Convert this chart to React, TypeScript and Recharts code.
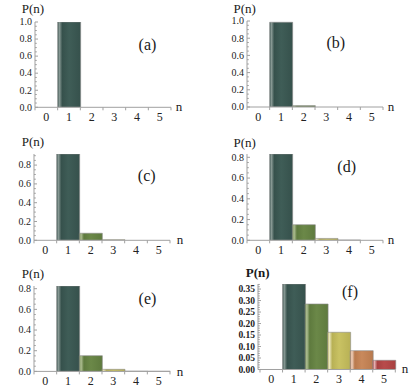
import React from 'react';
import { Bar, BarChart, Cell, XAxis, YAxis } from 'recharts';

// photon-number distributions P(n), one array per panel
const categories = [0, 1, 2, 3, 4, 5];
const probA = [0, 1.0, 0, 0, 0, 0];
const probB = [0, 0.985, 0.016, 0, 0, 0];
const probC = [0, 0.918, 0.075, 0.006, 0, 0];
const probD = [0, 0.832, 0.15, 0.018, 0.002, 0];
const probE = [0, 0.826, 0.152, 0.02, 0.002, 0.0005];
const probF = [0, 0.372, 0.285, 0.162, 0.082, 0.04];

const majorTicksUnit = [0, 0.2, 0.4, 0.6, 0.8, 1.0];
const majorTicksPartial = [0, 0.2, 0.4, 0.6, 0.8];
const majorTicksF = [0, 0.05, 0.1, 0.15, 0.2, 0.25, 0.3, 0.35];

const FONT = "'Liberation Serif', 'Times New Roman', serif";
const AXIS = '#a0a0a0';

// base colour + highlight for each n
const barColors = [
  { base: '#3f5d57', light: '#8c9d98', dark: '#36514c' },
  { base: '#3f5d57', light: '#8c9d98', dark: '#36514c' },
  { base: '#6b8848', light: '#b2c196', dark: '#5e7a3e' },
  { base: '#c9c263', light: '#efebc8', dark: '#b8b155' },
  { base: '#c9895c', light: '#f1d3c0', dark: '#b97a4e' },
  { base: '#b84b4b', light: '#e6b6b6', dark: '#a84141' },
];

const YW = 30;
const XH = 20;
const MT = 8;
const MR = 6;

function minorTicks(max: number, step: number) {
  const out: number[] = [];
  for (let i = 0; i * step <= max + 1e-9; i++) out.push(Math.round(i * step * 1000) / 1000);
  return out;
}

interface PanelProps {
  values: number[];
  yMax: number;
  majors: number[];
  minorStep: number;
  decimals: number;
  bold?: boolean;
  rect: { x0: number; x1: number; yTop: number; yBot: number };
  padLeft?: number;
  letter: string;
  pPos: [number, number];
  letterPos: [number, number];
  nPos: [number, number];
}

function Panel({ values, yMax, majors, minorStep, decimals, bold, rect, padLeft = 0, letter, pPos, letterPos, nPos }: PanelProps) {
  const data = categories.map((n, i) => ({ n: String(n), p: values[i] }));
  const plotW = rect.x1 - rect.x0;
  const plotH = rect.yBot - rect.yTop;
  const band = (plotW - padLeft) / categories.length;
  const allTicks = Array.from(new Set([...minorTicks(yMax, minorStep), ...majors])).sort((a, b) => a - b);
  const isMajor = (v: number) => majors.some((m) => Math.abs(m - v) < 1e-6);

  const renderXTick = (props: any) => {
    const { x, y, index } = props;
    return (
      <g>
        <line x1={x - band / 2} x2={x - band / 2} y1={y} y2={y + 3} stroke={AXIS} />
        {index === categories.length - 1 && (
          <line x1={x + band / 2} x2={x + band / 2} y1={y} y2={y + 3} stroke={AXIS} />
        )}
        <text x={x} y={y + 14} textAnchor="middle" fontSize={12} fontFamily={FONT} fill="#222">
          {props.payload.value}
        </text>
      </g>
    );
  };

  const renderYTick = (props: any) => {
    const { x, y } = props;
    const v = props.payload.value as number;
    const major = isMajor(v);
    return (
      <g>
        <line x1={x} x2={x + (major ? 3 : 1.8)} y1={y} y2={y} stroke={AXIS} />
        {major && (
          <text
            x={x - 3}
            y={y}
            dy="0.33em"
            textAnchor="end"
            fontSize={bold ? 9.5 : 10}
            fontWeight={bold ? 'bold' : 'normal'}
            fontFamily={FONT}
            fill="#222"
          >
            {v.toFixed(decimals)}
          </text>
        )}
      </g>
    );
  };

  const txt = (pos: [number, number], size: number, weight = 'normal'): React.CSSProperties => ({
    position: 'absolute',
    left: pos[0],
    top: pos[1],
    transform: 'translate(-50%, -50%)',
    fontSize: size,
    fontWeight: weight as any,
    fontFamily: FONT,
    lineHeight: 1,
    whiteSpace: 'nowrap',
    color: '#1a1a1a',
  });

  return (
    <>
      <div style={{ position: 'absolute', left: rect.x0 - YW, top: rect.yTop - MT }}>
        <BarChart
          width={YW + plotW + MR}
          height={MT + plotH + XH}
          data={data}
          margin={{ top: MT, right: MR, left: 0, bottom: 0 }}
          barCategoryGap={0}
          barGap={0}
        >
          <XAxis
            dataKey="n"
            type="category"
            height={XH}
            interval={0}
            tickSize={0}
            tickMargin={0}
            tickLine={false}
            axisLine={{ stroke: AXIS }}
            padding={{ left: padLeft, right: 0 }}
            tick={renderXTick}
          />
          <YAxis
            type="number"
            domain={[0, yMax]}
            ticks={allTicks}
            interval={0}
            width={YW}
            tickSize={0}
            tickMargin={0}
            tickLine={false}
            axisLine={{ stroke: AXIS }}
            allowDataOverflow
            tick={renderYTick}
          />
          <Bar dataKey="p" isAnimationActive={false} stroke="#8a8a8a" strokeWidth={0.6}>
            {data.map((d, i) => (
              <Cell key={d.n} fill={`url(#bar-grad-${i})`} />
            ))}
          </Bar>
        </BarChart>
      </div>
      <div style={txt(pPos, 13, bold ? 'bold' : 'normal')}>P(n)</div>
      <div style={txt(letterPos, 16)}>{letter}</div>
      <div style={txt(nPos, 13)}>n</div>
    </>
  );
}

export default function App() {
  return (
    <div style={{ position: 'absolute', left: 0, top: 0, width: 415, height: 389, background: '#fff', overflow: 'hidden' }}>
      <svg width={0} height={0} style={{ position: 'absolute' }}>
        <defs>
          {barColors.map((c, i) => (
            <linearGradient key={i} id={`bar-grad-${i}`} x1="0" x2="1" y1="0" y2="0">
              <stop offset="0" stopColor={c.dark} />
              <stop offset="0.07" stopColor={c.light} />
              <stop offset="0.2" stopColor={c.dark} />
              <stop offset="0.5" stopColor={c.base} />
              <stop offset="1" stopColor={c.dark} />
            </linearGradient>
          ))}
        </defs>
      </svg>

      <Panel values={probA} yMax={1} majors={majorTicksUnit} minorStep={0.05} decimals={1}
        rect={{ x0: 34.5, x1: 170.5, yTop: 22, yBot: 107.3 }}
        letter="(a)" pPos={[33, 8]} letterPos={[147.5, 45]} nPos={[179, 106]} />
      <Panel values={probB} yMax={1} majors={majorTicksUnit} minorStep={0.05} decimals={1}
        rect={{ x0: 247, x1: 383, yTop: 21.3, yBot: 107.3 }}
        letter="(b)" pPos={[244.7, 8]} letterPos={[335.8, 42.7]} nPos={[391, 106]} />
      <Panel values={probC} yMax={0.918} majors={majorTicksPartial} minorStep={0.05} decimals={1}
        rect={{ x0: 33.5, x1: 169.5, yTop: 154, yBot: 240.3 }}
        letter="(c)" pPos={[33, 141]} letterPos={[146.7, 175.7]} nPos={[180, 239]} />
      <Panel values={probD} yMax={0.832} majors={majorTicksPartial} minorStep={0.05} decimals={1}
        rect={{ x0: 247, x1: 383, yTop: 154, yBot: 240.3 }}
        letter="(d)" pPos={[244.7, 142]} letterPos={[346.7, 167]} nPos={[391, 239]} />
      <Panel values={probE} yMax={0.826} majors={majorTicksPartial} minorStep={0.05} decimals={1}
        rect={{ x0: 33.5, x1: 169.5, yTop: 286.3, yBot: 371.7 }}
        letter="(e)" pPos={[33, 273.3]} letterPos={[147.5, 299]} nPos={[180, 371]} />
      <Panel values={probF} yMax={0.372} majors={majorTicksF} minorStep={0.01} decimals={2} bold
        rect={{ x0: 257.7, x1: 395, yTop: 284, yBot: 369.5 }} padLeft={2}
        letter="(f)" pPos={[257.7, 272]} letterPos={[350, 292.3]} nPos={[405, 368]} />
    </div>
  );
}
